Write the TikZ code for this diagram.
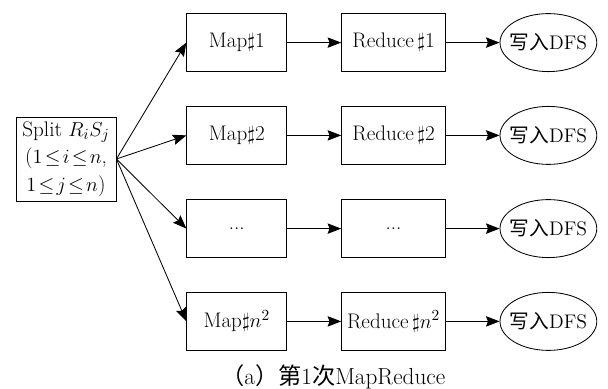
\documentclass[tikz,border=0pt]{standalone}
\usepackage{amsmath,amssymb}
\usepackage{fontspec}
\newfontfamily\cjk{Noto Sans CJK SC}
\usetikzlibrary{arrows.meta,positioning,shapes.geometric}

\begin{document}
\begin{tikzpicture}[x=1cm,y=1cm]
\tikzset{
  taskbox/.style={rectangle,draw=black,line width=0.6pt,minimum width=2.5cm,minimum height=1.45cm,inner sep=1pt,font=\fontsize{15}{17}\selectfont},
  redbox/.style={taskbox,minimum width=2.6cm},
  splitbox/.style={taskbox,minimum height=2.1cm,align=center,font=\fontsize{15}{19.5}\selectfont},
  outnode/.style={ellipse,draw=black,line width=0.6pt,minimum width=2.42cm,minimum height=1.45cm,inner xsep=-0.3cm,inner ysep=0pt,font=\fontsize{14}{16}\selectfont},
  flow/.style={draw=black,line width=0.6pt,-{Stealth[length=3.4mm,width=2.6mm,inset=0.5mm]}}
}
\useasboundingbox (0,0) rectangle (15.2,9.725);
\node[splitbox] (n_split) at (1.65,5.75) {Split $R_iS_j$\\($1\!\leq\! i\!\leq\! n$,\\$1\!\leq\! j\!\leq\! n$)};
\node[taskbox] (n_m1) at (5.92,8.66) {Map$\sharp$1};
\node[taskbox] (n_m2) at (5.92,6.34) {Map$\sharp$2};
\node[taskbox] (n_m3) at (5.92,4.01) {...};
\node[taskbox] (n_m4) at (5.92,1.69) {Map$\sharp n^{2}$};
\node[redbox] (n_r1) at (9.84,8.66) {Reduce$\,\sharp$1};
\node[redbox] (n_r2) at (9.84,6.34) {Reduce$\,\sharp$2};
\node[redbox] (n_r3) at (9.84,4.01) {...};
\node[redbox] (n_r4) at (9.84,1.69) {Reduce$\,\sharp n^{2}$};
\node[outnode] (n_o1) at (13.71,8.66) {{\cjk 写入}DFS};
\node[outnode] (n_o2) at (13.71,6.34) {{\cjk 写入}DFS};
\node[outnode] (n_o3) at (13.71,4.01) {{\cjk 写入}DFS};
\node[outnode] (n_o4) at (13.71,1.69) {{\cjk 写入}DFS};
\node[font=\fontsize{16.5}{18}\selectfont] (n_cap) at (8.33,0.3) {{\cjk （}a{\cjk ）第}1{\cjk 次}MapReduce};
% split fans out to the map tasks
\draw[flow] (n_split.east) -- (n_m1.west);
\draw[flow] (n_split.east) -- (n_m2.west);
\draw[flow] (n_split.east) -- (n_m3.west);
\draw[flow] (n_split.east) -- (n_m4.west);
\draw[flow] (n_m1) -- (n_r1);
\draw[flow] (n_m2) -- (n_r2);
\draw[flow] (n_m3) -- (n_r3);
\draw[flow] (n_m4) -- (n_r4);
\draw[flow] (n_r1) -- (n_o1);
\draw[flow] (n_r2) -- (n_o2);
\draw[flow] (n_r3) -- (n_o3);
\draw[flow] (n_r4) -- (n_o4);
\end{tikzpicture}
\end{document}
